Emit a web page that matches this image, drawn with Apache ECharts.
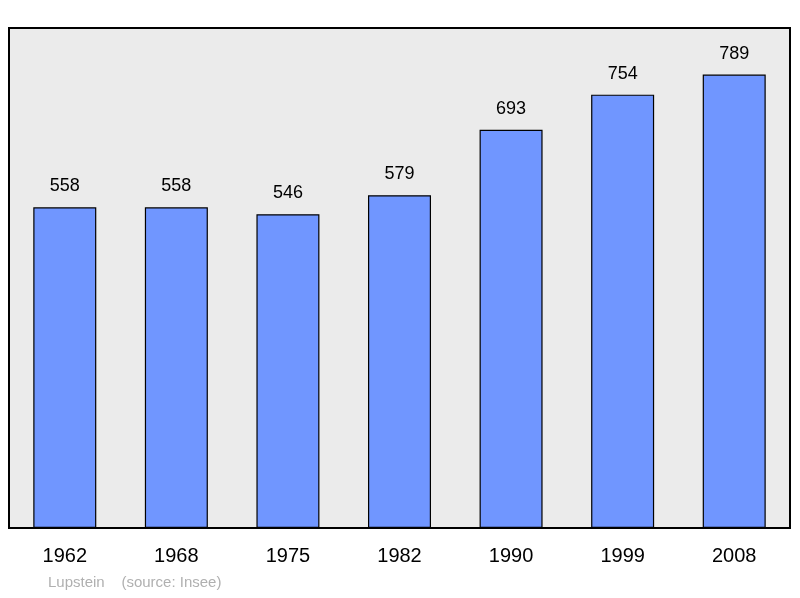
<!DOCTYPE html>
<html>
<head>
<meta charset="utf-8">
<script src="https://cdn.jsdelivr.net/npm/echarts@6/dist/echarts.min.js"></script>
<style>
  html, body { margin: 0; padding: 0; background: #fff; }
  #chart { width: 800px; height: 598px; }
</style>
</head>
<body>
<div id="chart"></div>
<script>
// recensements
const years = ['1962', '1968', '1975', '1982', '1990', '1999', '2008']
const population = [558, 558, 546, 579, 693, 754, 789]

const chart = echarts.init(document.getElementById('chart'))
chart.setOption({
  animation: false,
  textStyle: { fontFamily: 'Liberation Sans' },
  grid: {
    left: 9, right: 10, top: 28, bottom: 70,
    show: true,
    backgroundColor: '#ebebeb',
    borderColor: '#000',
    borderWidth: 2,
  },
  xAxis: {
    type: 'category',
    data: years,
    axisLine: { show: false },
    axisTick: { show: false },
    axisLabel: { fontSize: 20, color: '#000', margin: 18 },
  },
  yAxis: {
    type: 'value',
    min: 0,
    max: 870,
    show: false,
    splitLine: { show: false },
  },
  series: [
    {
      type: 'bar',
      data: population,
      barWidth: 63,
      itemStyle: { color: '#7096ff', borderColor: '#000', borderWidth: 1.2 },
      label: {
        show: true,
        position: 'top',
        distance: 12,
        fontSize: 18,
        color: '#000',
      },
    },
  ],
  graphic: [
    {
      type: 'text',
      left: 48,
      top: 575,
      style: { text: 'Lupstein    (source: Insee)', fontSize: 15, fill: '#b0b0b0', fontFamily: 'Liberation Sans' },
    },
  ],
})
</script>
</body>
</html>
